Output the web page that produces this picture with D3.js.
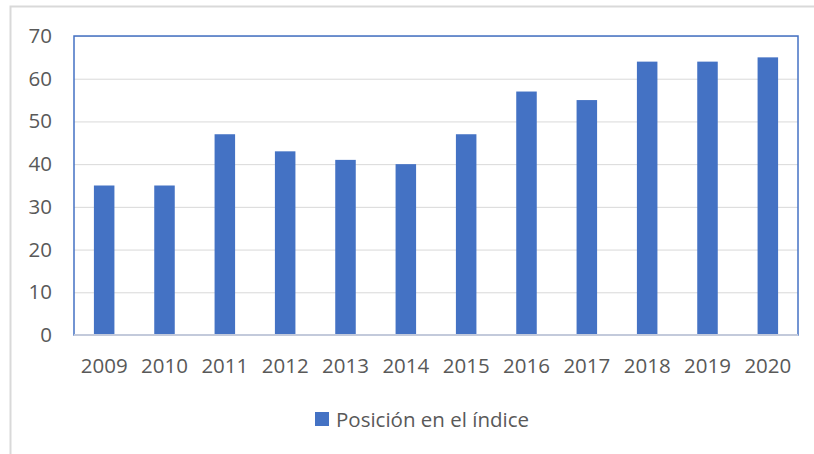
<!DOCTYPE html>
<html>
<head>
<meta charset="utf-8">
<script src="https://cdn.jsdelivr.net/npm/d3@7"></script>
<style>
  body { margin: 0; background: #fff; }
  text { font-family: "Open Sans", "Noto Sans", sans-serif; fill: #595959; }
</style>
</head>
<body>
<div id="chart"></div>
<script>
var years = ["2009", "2010", "2011", "2012", "2013", "2014", "2015", "2016", "2017", "2018", "2019", "2020"];
var values = [35, 35, 47, 43, 41, 40, 47, 57, 55, 64, 64, 65];
var yTicks = [0, 10, 20, 30, 40, 50, 60, 70];
var seriesName = "Posición en el índice";

var width = 814, height = 454;
var margin = {top: 36, right: 16, bottom: 119, left: 74};
var innerW = width - margin.left - margin.right,
    innerH = height - margin.top - margin.bottom;
var fontSize = 20.5;

var svg = d3.select("#chart").append("svg")
    .attr("width", width).attr("height", height);

// outer chart frame
svg.append("rect")
    .attr("x", 10.5).attr("y", 6.5)
    .attr("width", 900).attr("height", 600)
    .attr("fill", "none").attr("stroke", "#d9d9d9").attr("stroke-width", 2);

var x = d3.scaleBand().domain(years).range([0, innerW]).paddingInner(0.66).paddingOuter(0.33);
var y = d3.scaleLinear().domain([0, 70]).range([innerH, 0]);

var g = svg.append("g").attr("transform", "translate(" + margin.left + "," + margin.top + ")");

// grid
g.append("g")
    .call(d3.axisLeft(y).tickValues(yTicks).tickSize(-innerW).tickFormat(""))
    .call(function(s) {
        s.select(".domain").remove();
        s.selectAll("line").attr("stroke", "#d9d9d9").attr("stroke-width", 1);
    });

// bars
g.selectAll(".bar").data(values).enter().append("rect")
    .attr("class", "bar")
    .attr("x", function(d, i) { return x(years[i]); })
    .attr("y", function(d) { return y(d); })
    .attr("width", x.bandwidth())
    .attr("height", function(d) { return innerH - y(d); })
    .attr("fill", "#4472c4");

// plot area border
g.append("rect")
    .attr("x", 0).attr("y", 0).attr("width", innerW).attr("height", innerH)
    .attr("fill", "none").attr("stroke", "#4472c4").attr("stroke-width", 1.5);

// bottom axis line
g.append("line")
    .attr("x1", 0).attr("x2", innerW).attr("y1", innerH).attr("y2", innerH)
    .attr("stroke", "#c3cadb").attr("stroke-width", 2);

// y labels
g.append("g")
    .call(d3.axisLeft(y).tickValues(yTicks).tickSize(0).tickPadding(22))
    .call(function(s) {
        s.select(".domain").remove();
        s.selectAll("text").attr("font-size", fontSize).style("fill", "#595959");
        s.attr("font-family", null);
    });

// x labels
g.append("g")
    .attr("transform", "translate(0," + innerH + ")")
    .call(d3.axisBottom(x).tickSize(0).tickPadding(23))
    .call(function(s) {
        s.select(".domain").remove();
        s.selectAll("text").attr("font-size", fontSize).style("fill", "#595959");
        s.attr("font-family", null);
    });

// legend
var legend = svg.append("g").attr("transform", "translate(315,412)");
legend.append("rect").attr("width", 14).attr("height", 14).attr("fill", "#4472c4");
legend.append("text").attr("x", 21).attr("y", 14.5)
    .attr("font-size", fontSize).text(seriesName);
</script>
</body>
</html>
